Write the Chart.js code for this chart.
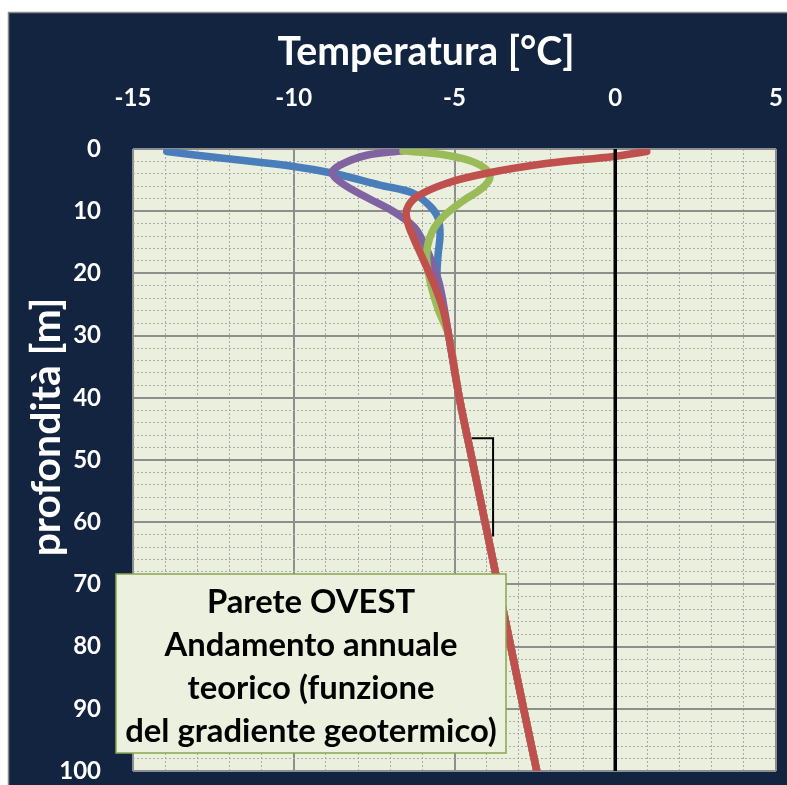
<!DOCTYPE html>
<html><head><meta charset="utf-8">
<script src="https://cdn.jsdelivr.net/npm/chart.js@4"></script>
<style>html,body{margin:0;padding:0;background:#fff;}canvas{display:block;}</style>
</head><body>
<canvas id="c" width="787" height="785"></canvas>
<script>
// ---- texts ----
const xTitle = 'Temperatura [°C]';
const yTitle = 'profondità [m]';
const noteLines = ['Parete OVEST', 'Andamento annuale', 'teorico (funzione', 'del gradiente geotermico)'];

// ---- axis ranges / ticks ----
const xRange = [-15, 5];
const xMinorStep = 1;
const xMajorStep = 5;
const yRange = [0, 100];
const yMinorStep = 2;
const yMajorStep = 10;

// ---- series (depth in m, temperature in °C) ----
const blueDepth   = [0.4, 1.5, 2.8, 3.9, 5.8, 7.1, 9.2, 11.1, 13.8, 17.0, 20.3, 25.0];
const blueTemp    = [-13.95, -12.2, -10.0, -8.78, -7.32, -6.29, -5.76, -5.51, -5.45, -5.51, -5.54, -5.4];
const purpleDepth = [0.3, 1.0, 2.6, 3.9, 5.5, 7.6, 10.2, 12.6, 15.5, 18.5, 22.1];
const purpleTemp  = [-6.6, -7.73, -8.56, -8.8, -8.5, -7.8, -6.85, -6.25, -5.92, -5.68, -5.45];
const greenDepth  = [0.3, 1.0, 2.3, 4.2, 6.1, 8.5, 11.4, 14.1, 17.3, 21.3, 25.9];
const greenTemp   = [-6.6, -5.24, -4.31, -3.9, -4.1, -4.78, -5.45, -5.76, -5.87, -5.76, -5.5];
const redDepth    = [0.4, 1.2, 2.3, 3.9, 5.5, 7.7, 9.8, 11.9, 14.1, 17.8, 22.1, 25.9];
const redTemp     = [0.98, -0.05, -2.1, -4.0, -5.24, -6.18, -6.49, -6.45, -6.29, -5.97, -5.61, -5.35];
// common geothermal-gradient part shared by all series
const tailDepth   = [30, 40, 50, 60, 70, 80, 90, 100];
const tailTemp    = [-5.18, -4.85, -4.45, -4.05, -3.65, -3.25, -2.85, -2.44];
// zero line and small bracket marker
const zeroDepth   = [0, 100];
const zeroTemp    = [0, 0];
const bracketDepth = [46.5, 46.5, 62.3];
const bracketTemp  = [-4.46, -3.8, -3.8];

function pts(ds, ts) { return ds.map((d, i) => ({ x: ts[i], y: d })); }
function withTail(ds, ts) { return pts(ds.concat(tailDepth), ts.concat(tailTemp)); }

const FONT = 'Lato, "Open Sans", "DejaVu Sans", sans-serif';
Chart.defaults.font.family = FONT;

function fitSize(ctx, text, target, base) {
  ctx.font = 'bold ' + base + 'px ' + FONT;
  return base * target / ctx.measureText(text).width;
}

const decor = {
  id: 'decor',
  beforeDraw(chart) {
    const c = chart.ctx, a = chart.chartArea;
    c.save();
    c.fillStyle = '#ffffff';
    c.fillRect(0, 0, chart.width, chart.height);
    c.fillStyle = '#12243f';
    c.fillRect(8, 12, chart.width - 8, chart.height - 12);
    c.strokeStyle = '#8a8a8a';
    c.lineWidth = 1.5;
    c.beginPath();
    c.moveTo(8.5, chart.height); c.lineTo(8.5, 12.5); c.lineTo(chart.width, 12.5);
    c.stroke();
    c.fillStyle = '#ebf0de';
    c.fillRect(a.left, a.top, a.right - a.left, a.bottom - a.top);
    c.restore();
  },
  afterDatasetsDraw(chart) {
    const c = chart.ctx;
    c.save();
    const bx = 116, by = 574, bw = 390, bh = 179;
    c.fillStyle = '#ebf1de';
    c.fillRect(bx, by, bw, bh);
    c.strokeStyle = '#8aa64e';
    c.lineWidth = 1.5;
    c.strokeRect(bx, by, bw, bh);
    const s = fitSize(c, noteLines[3], 372, 30);
    c.font = 'bold ' + s.toFixed(1) + 'px ' + FONT;
    c.fillStyle = '#000';
    c.textAlign = 'center';
    c.textBaseline = 'middle';
    const ys = [602, 645, 688, 731];
    noteLines.forEach((t, i) => c.fillText(t, bx + bw / 2, ys[i]));
    c.restore();
  },
  afterDraw(chart) {
    const c = chart.ctx;
    c.save();
    c.fillStyle = '#ffffff';
    c.textAlign = 'center';
    c.textBaseline = 'middle';
    let s = fitSize(c, xTitle, 297, 32);
    c.font = 'bold ' + s.toFixed(1) + 'px ' + FONT;
    c.fillText(xTitle, 426, 52);
    s = fitSize(c, yTitle, 259, 32);
    c.font = 'bold ' + s.toFixed(1) + 'px ' + FONT;
    c.translate(47, 427);
    c.rotate(-Math.PI / 2);
    c.fillText(yTitle, 0, 0);
    c.restore();
  }
};

const isMajor = (v, step) => Math.abs(v / step - Math.round(v / step)) < 1e-6;
function noPad(s) { s.paddingLeft = 0; s.paddingRight = 0; s.paddingTop = 0; s.paddingBottom = 0; }

function lineDs(data, color, order, width) {
  return {
    data, borderColor: color, backgroundColor: color, borderWidth: width,
    pointRadius: 0, pointHoverRadius: 0, tension: 0.35, fill: false, order,
    borderCapStyle: 'round', borderJoinStyle: 'round'
  };
}

new Chart(document.getElementById('c'), {
  type: 'line',
  data: {
    datasets: [
      Object.assign(lineDs(pts(zeroDepth, zeroTemp), '#000000', -2, 3.5), { tension: 0, borderCapStyle: 'butt' }),
      Object.assign(lineDs(pts(bracketDepth, bracketTemp), '#000000', -1, 2), { tension: 0, borderCapStyle: 'butt', borderJoinStyle: 'miter' }),
      lineDs(withTail(redDepth, redTemp), '#c0504d', 0, 7.5),
      lineDs(withTail(greenDepth, greenTemp), '#9bbb59', 1, 7.5),
      lineDs(withTail(purpleDepth, purpleTemp), '#8064a2', 2, 7.5),
      lineDs(withTail(blueDepth, blueTemp), '#4a7ebb', 3, 7.5)
    ]
  },
  options: {
    responsive: false,
    animation: false,
    events: [],
    layout: { padding: { left: 0, top: 0, right: 11, bottom: 14 } },
    plugins: { legend: { display: false }, tooltip: { enabled: false }, title: { display: false } },
    scales: {
      x: {
        type: 'linear', position: 'top', min: xRange[0], max: xRange[1],
        afterFit(s) { s.height = 149; noPad(s); },
        ticks: {
          stepSize: xMinorStep, autoSkip: false, maxRotation: 0, padding: 36,
          color: '#ffffff', font: { size: 24, weight: 'bold' },
          callback: v => isMajor(v, xMajorStep) ? String(v) : ''
        },
        grid: {
          drawTicks: false,
          color: ctx => isMajor(ctx.tick.value, xMajorStep) ? '#8e8e8e' : '#ababab',
          lineWidth: ctx => isMajor(ctx.tick.value, xMajorStep) ? 2 : 1
        },
        border: { display: false, dash: ctx => (ctx.tick && isMajor(ctx.tick.value, xMajorStep)) ? [] : [2, 2] }
      },
      y: {
        type: 'linear', reverse: true, min: yRange[0], max: yRange[1],
        afterFit(s) { s.width = 133; noPad(s); },
        ticks: {
          stepSize: yMinorStep, autoSkip: false, padding: 32,
          color: '#ffffff', font: { size: 24, weight: 'bold' },
          callback: v => isMajor(v, yMajorStep) ? String(v) : ''
        },
        grid: {
          drawTicks: false,
          color: ctx => isMajor(ctx.tick.value, yMajorStep) ? '#8e8e8e' : '#ababab',
          lineWidth: ctx => isMajor(ctx.tick.value, yMajorStep) ? 2 : 1
        },
        border: { display: false, dash: ctx => (ctx.tick && isMajor(ctx.tick.value, yMajorStep)) ? [] : [2, 2] }
      }
    }
  },
  plugins: [decor]
});
</script>
</body></html>
